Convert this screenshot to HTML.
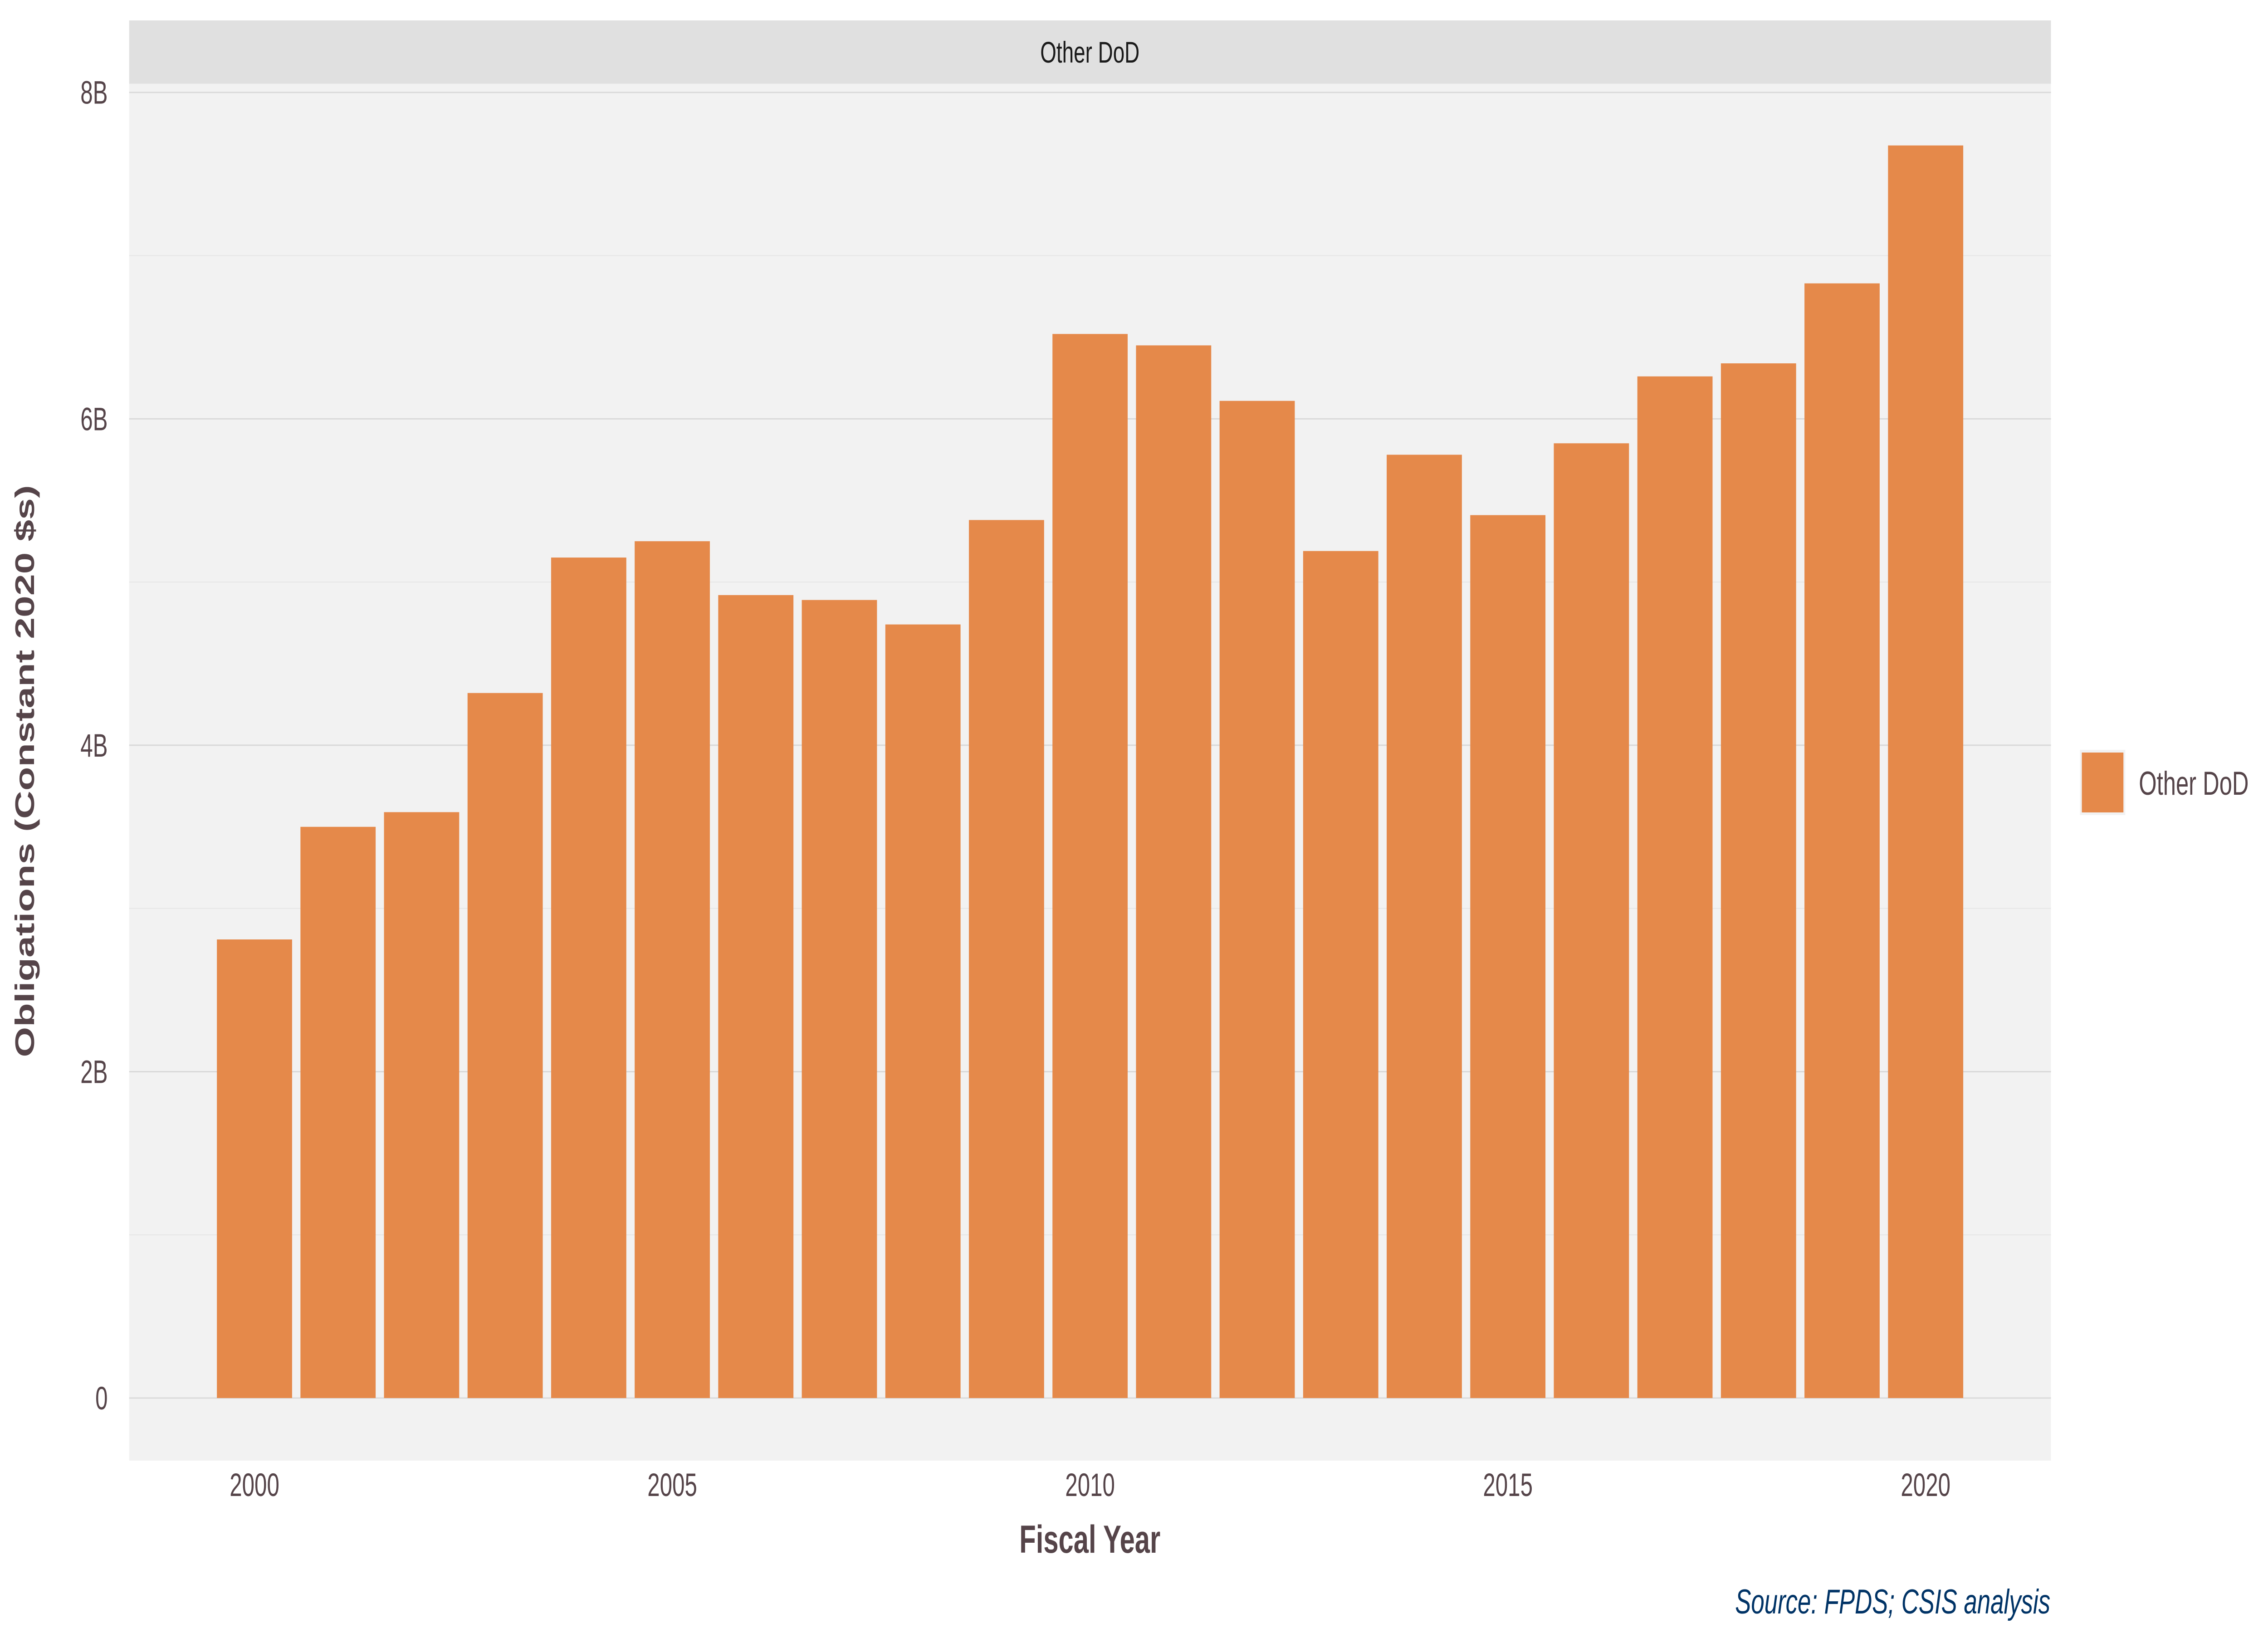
<!DOCTYPE html>
<html><head><meta charset="utf-8"><style>
html,body{margin:0;padding:0;background:#fff;width:100%;height:100%;overflow:hidden;}
svg{display:block;width:100vw;height:100vh;font-family:"Liberation Sans",Arial,sans-serif;}
</style></head><body>
<svg id="chart" viewBox="0 0 7200 3600" preserveAspectRatio="none" xmlns="http://www.w3.org/2000/svg">
<rect x="0" y="0" width="7200" height="3600" fill="#fff"/>
<rect x="410" y="184.5" width="6101" height="3035.5" fill="#f2f2f2"/>
<rect x="410" y="45" width="6101" height="139.5" fill="#e0e0e0"/>
<text x="3460" y="138" text-anchor="middle" font-size="66" fill="#1a1a1a">Other DoD</text>
<g id="grid"></g>
<g id="bars"></g>
<g id="yticks"></g>
<g id="xticks"></g>
<text transform="translate(108,1700) rotate(-90)" text-anchor="middle" font-size="86" font-weight="bold" fill="#554449">Obligations (Constant 2020 $s)</text>
<text x="3460" y="3423" text-anchor="middle" font-size="86" font-weight="bold" fill="#554449">Fiscal Year</text>
<rect x="6603" y="1653" width="144" height="144" fill="#f2f2f2"/>
<rect x="6609" y="1659" width="132" height="132" fill="#e5894a"/>
<text x="6790" y="1752" font-size="73" fill="#554449">Other DoD</text>
<text x="6509" y="3557" text-anchor="end" font-size="76" font-style="italic" fill="#003366">Source: FPDS; CSIS analysis</text>
</svg>
<script>
const years = [2000,2001,2002,2003,2004,2005,2006,2007,2008,2009,2010,2011,2012,2013,2014,2015,2016,2017,2018,2019,2020];
const values = [2.81,3.50,3.59,4.32,5.15,5.25,4.92,4.89,4.74,5.38,6.52,6.45,6.11,5.19,5.78,5.41,5.85,6.26,6.34,6.83,7.675];
const yTicks = [0,2,4,6,8];
const yTickLabels = ["0","2B","4B","6B","8B"];
const yMinor = [1,3,5,7];
const xTicks = [2000,2005,2010,2015,2020];

const NS = "http://www.w3.org/2000/svg";
const PX0 = 410, PX1 = 6511, PY0 = 184.5, PY1 = 3220;
const xMin = 1998.5, xMax = 2021.5;
const yMin = -0.3835, yMax = 8.0535;
function xs(v){ return PX0 + (v - xMin) / (xMax - xMin) * (PX1 - PX0); }
function ys(v){ return PY1 - (v - yMin) / (yMax - yMin) * (PY1 - PY0); }
const band = (PX1 - PX0) / (xMax - xMin);
function mk(tag, attrs, parent){
  const e = document.createElementNS(NS, tag);
  for (const k in attrs) e.setAttribute(k, attrs[k]);
  parent.appendChild(e);
  return e;
}
const grid = document.getElementById('grid');
yMinor.forEach(v => {
  const l = mk('line', {x1:PX0, x2:PX1, y1:ys(v), y2:ys(v), stroke:'#e6e6e6', 'stroke-width':2}, grid);
  
  
});
yTicks.forEach(v => {
  const l = mk('line', {x1:PX0, x2:PX1, y1:ys(v), y2:ys(v), stroke:'#d9d9d9', 'stroke-width':3}, grid);
  
  
});
const bars = document.getElementById('bars');
years.forEach((yr, i) => {
  const w = band * 0.9;
  const r = mk('rect', {x: xs(yr) - w/2, y: ys(values[i]), width: w, height: ys(0) - ys(values[i]), fill:'#e5894a'}, bars);
  
  
});
const yt = document.getElementById('yticks');
yTicks.forEach((v, i) => {
  const t = mk('text', {x:342, y: ys(v) + 25, 'text-anchor':'end', 'font-size':71, fill:'#554449'}, yt);
  t.textContent = yTickLabels[i];
  
  
});
const xt = document.getElementById('xticks');
xTicks.forEach(v => {
  const t = mk('text', {x: xs(v), y: 3298, 'text-anchor':'middle', 'font-size':71, fill:'#554449'}, xt);
  t.textContent = String(v);
  
  
});
</script>
</body></html>
